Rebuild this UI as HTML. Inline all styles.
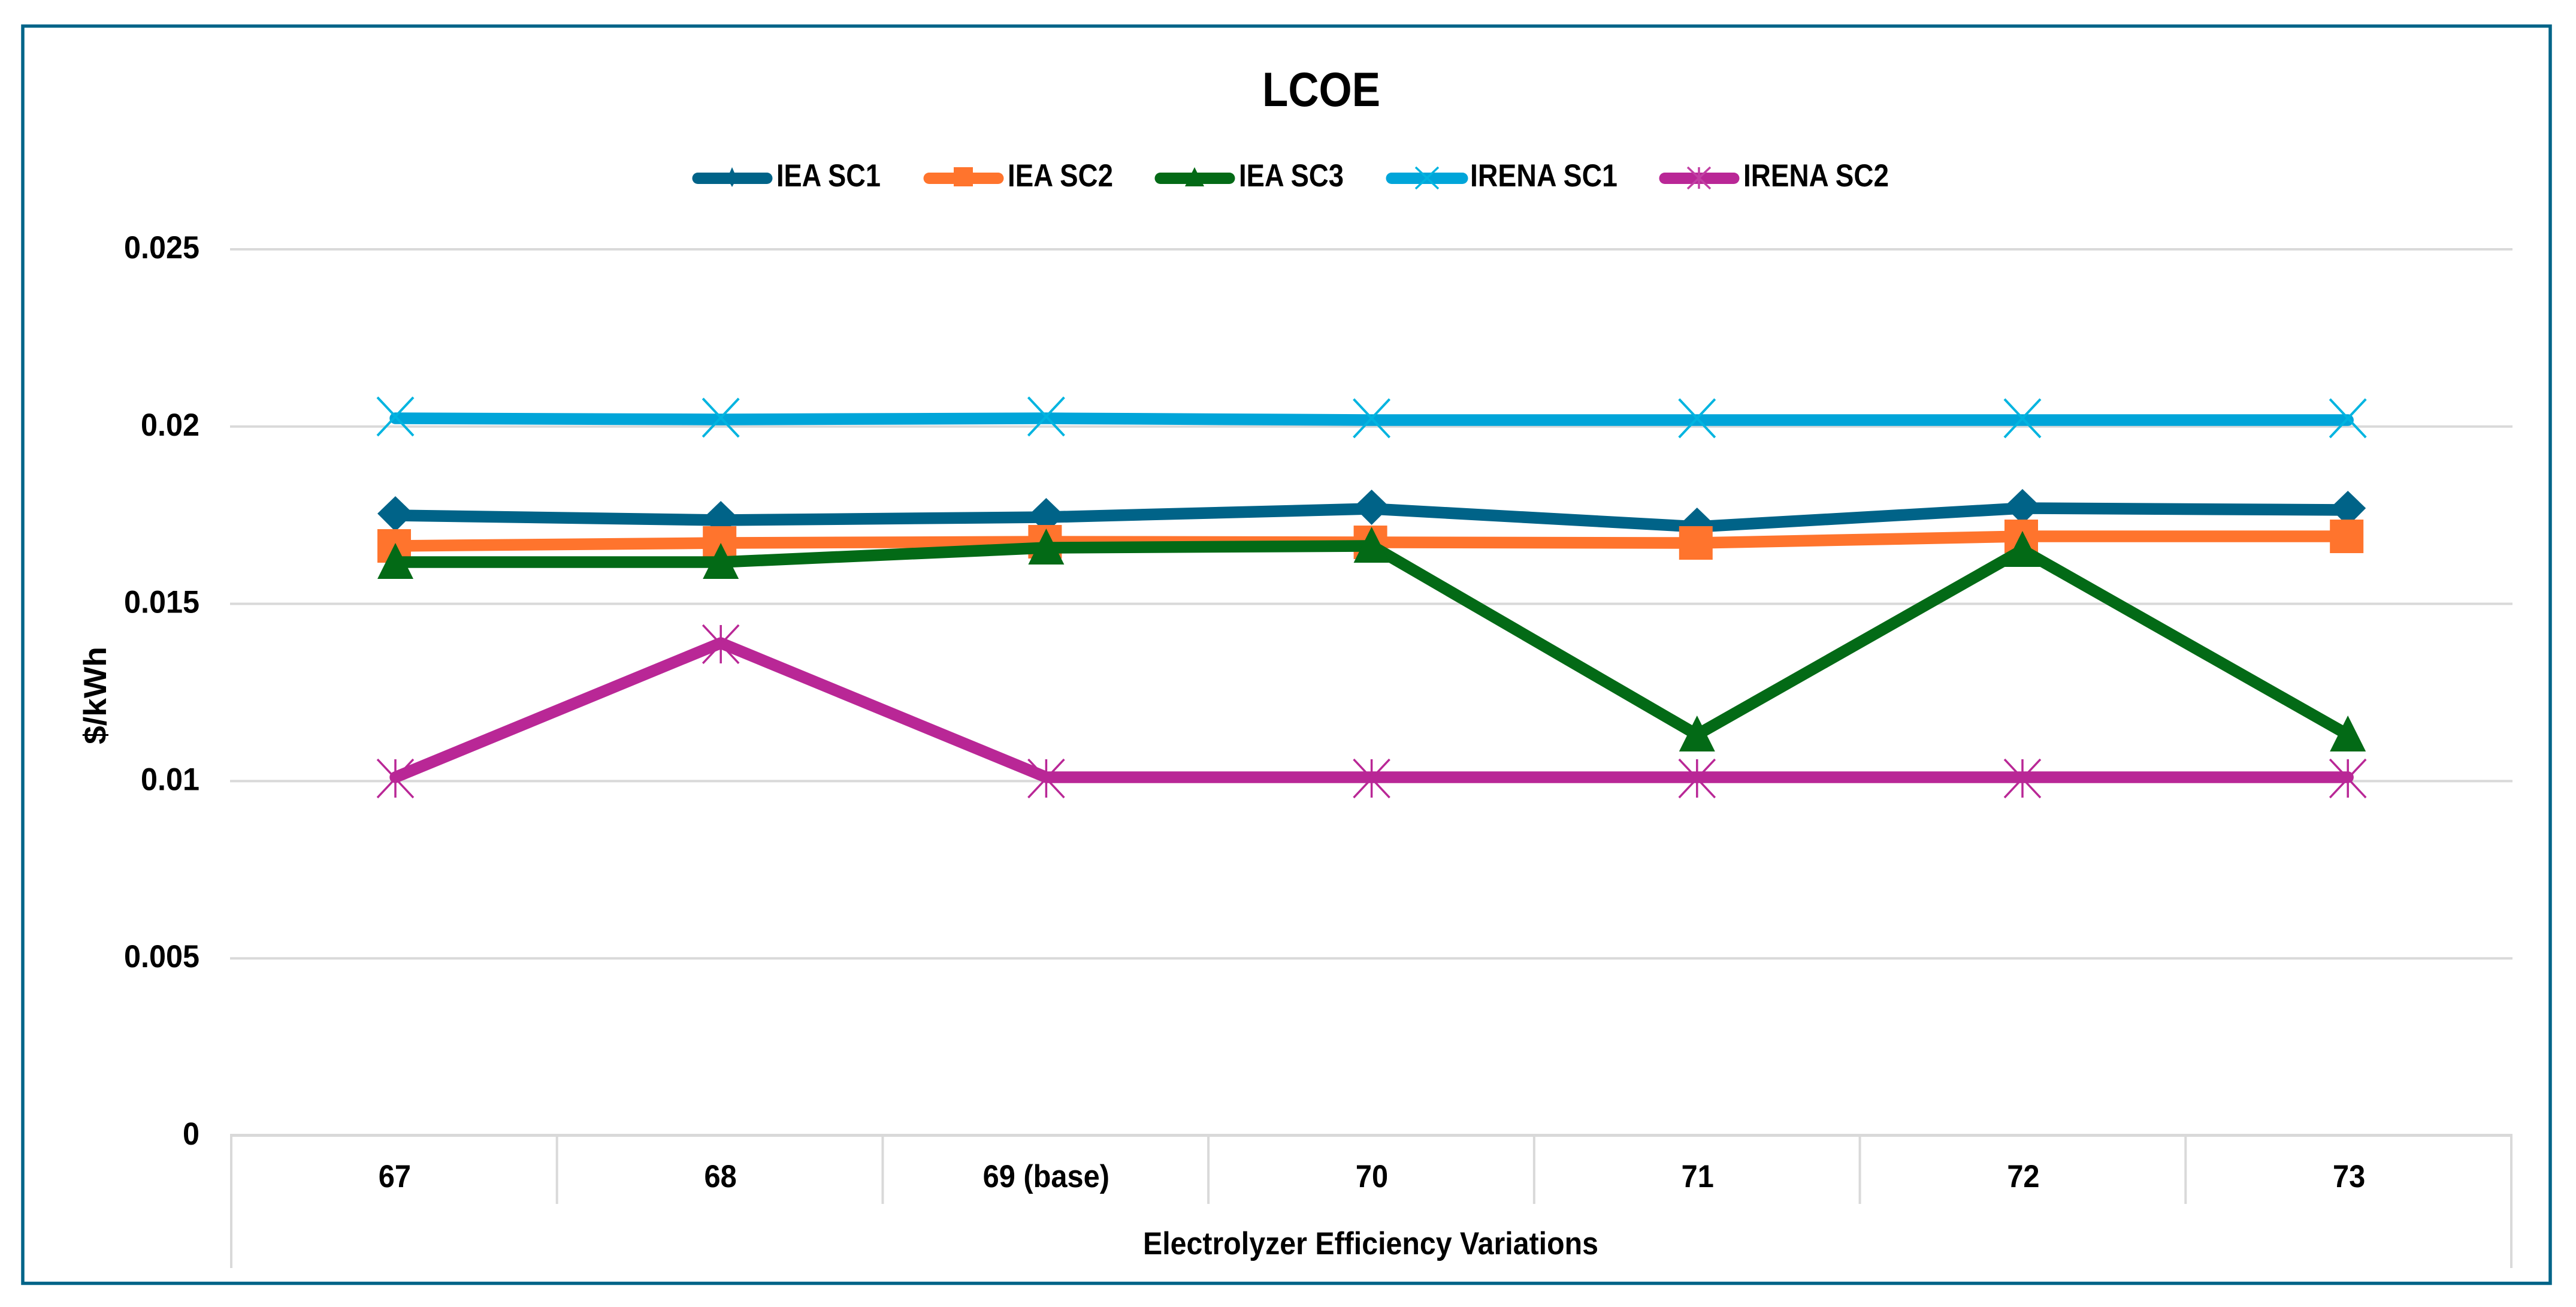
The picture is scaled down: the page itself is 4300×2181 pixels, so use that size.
<!DOCTYPE html>
<html lang="en">
<head>
<meta charset="utf-8">
<title>LCOE</title>
<style>
html,body{margin:0;padding:0;background:#fff;width:4300px;height:2181px;overflow:hidden}
svg{display:block}
text{font-family:"Liberation Sans",sans-serif;font-weight:700;fill:#000}
</style>
</head>
<body>
<svg id="chart" xmlns="http://www.w3.org/2000/svg" width="4300" height="2181" viewBox="0 0 4300 2181">
  <rect x="0" y="0" width="4300" height="2181" fill="#ffffff"/>
  <rect x="38" y="43.500" width="4219" height="2098" fill="#ffffff" stroke="#006488" stroke-width="5.500"/>
  <text x="2107" y="177" font-size="81" textLength="197" lengthAdjust="spacingAndGlyphs">LCOE</text>

  <g id="grid-layer"></g>
  <g id="axis-layer"></g>
  <g id="series-layer"></g>

  <g>
    <g>
      <line x1="1165" y1="297.500" x2="1280" y2="297.500" stroke="#006388" stroke-width="19" stroke-linecap="round"/>
      <path d="M1222 279 L1230 297.500 L1222 312 L1214 297.500 Z" fill="#006388"/>
      <text x="1296" y="311" font-size="53" textLength="174" lengthAdjust="spacingAndGlyphs">IEA SC1</text>
    </g>
    <g>
      <line x1="1551" y1="297.500" x2="1666" y2="297.500" stroke="#FF742D" stroke-width="19" stroke-linecap="round"/>
      <rect x="1592" y="279" width="32" height="32" fill="#FF742D"/>
      <text x="1682" y="311" font-size="53" textLength="176" lengthAdjust="spacingAndGlyphs">IEA SC2</text>
    </g>
    <g>
      <line x1="1937" y1="297.500" x2="2052" y2="297.500" stroke="#036A16" stroke-width="19" stroke-linecap="round"/>
      <path d="M1994 279 L2010 311 L1978 311 Z" fill="#036A16"/>
      <text x="2068" y="311" font-size="53" textLength="175" lengthAdjust="spacingAndGlyphs">IEA SC3</text>
    </g>
    <g>
      <line x1="2323" y1="297.500" x2="2441" y2="297.500" stroke="#00A5D9" stroke-width="19" stroke-linecap="round"/>
      <path d="M2363 279 L2401 315 M2401 279 L2363 315" stroke="#00B4E0" stroke-width="3.500" fill="none"/>
      <text x="2454" y="311" font-size="53" textLength="246" lengthAdjust="spacingAndGlyphs">IRENA SC1</text>
    </g>
    <g>
      <line x1="2779" y1="297.500" x2="2894" y2="297.500" stroke="#B92796" stroke-width="19" stroke-linecap="round"/>
      <path d="M2817 279 L2855 315 M2855 279 L2817 315 M2836 279 L2836 315" stroke="#C23FA4" stroke-width="3.500" fill="none"/>
      <text x="2910" y="311" font-size="53" textLength="243" lengthAdjust="spacingAndGlyphs">IRENA SC2</text>
    </g>
  </g>

  <text transform="translate(177 1242) rotate(-90)" font-size="53" textLength="163" lengthAdjust="spacingAndGlyphs">$/kWh</text>
  <text x="1908" y="2093" font-size="53" textLength="760" lengthAdjust="spacingAndGlyphs">Electrolyzer Efficiency Variations</text>
</svg>

<script>
const categories = ['67', '68', '69 (base)', '70', '71', '72', '73'];
const yTickValues = [0, 0.005, 0.01, 0.015, 0.02, 0.025];
const yTickLabels = ['0', '0.005', '0.01', '0.015', '0.02', '0.025'];
const ieaSc1 = [0.017495, 0.01736, 0.017444, 0.017681, 0.017174, 0.017698, 0.017647];
const ieaSc2 = [0.016633, 0.016717, 0.016751, 0.016734, 0.016717, 0.016903, 0.016903];
const ieaSc3 = [0.016176, 0.016176, 0.016582, 0.016633, 0.011308, 0.016514, 0.011308];
const irenaSc1 = [0.020233, 0.020199, 0.020233, 0.020183, 0.020183, 0.020183, 0.020183];
const irenaSc2 = [0.010108, 0.013895, 0.010108, 0.010108, 0.010108, 0.010108, 0.010108];

const NS = 'http://www.w3.org/2000/svg';
const plotLeft = 386;
const plotRight = 4192;
const bandWidth = (plotRight - plotLeft) / categories.length;

function xPoint(i) { return 660 + 543.2 * i; }
function yScale(v) { return 1895 - 59160 * v; }

function make(tag, attrs, parent) {
  const el = document.createElementNS(NS, tag);
  for (const k in attrs) el.setAttribute(k, attrs[k]);
  parent.appendChild(el);
  return el;
}

const gridLayer = document.getElementById('grid-layer');
const axisLayer = document.getElementById('axis-layer');
const seriesLayer = document.getElementById('series-layer');

yTickValues.forEach(function (v, i) {
  const y = yScale(v);
  if (v !== 0) {
    const g = make('line', { x1: 384, x2: plotRight + 2, y1: y, y2: y, stroke: '#d9d9d9', 'stroke-width': 4 }, gridLayer);
    
    
  }
  const t = make('text', { transform: 'translate(333 ' + (y + 15) + ') scale(0.95 1)', 'font-size': 53, 'text-anchor': 'end' }, gridLayer);
  t.textContent = yTickLabels[i];
  
  
});

const axisLine = make('line', { x1: 384, x2: plotRight + 2, y1: 1894.5, y2: 1894.5, stroke: '#d9d9d9', 'stroke-width': 5 }, axisLayer);



for (let i = 0; i <= categories.length; i++) {
  const x = plotLeft + bandWidth * i;
  const outer = (i === 0 || i === categories.length);
  const tick = make('line', { x1: x, x2: x, y1: 1894, y2: outer ? 2116 : 2009, stroke: '#d9d9d9', 'stroke-width': 4 }, axisLayer);
  
  
}

categories.forEach(function (c, i) {
  const cx = plotLeft + bandWidth * (i + 0.5);
  const t = make('text', { transform: 'translate(' + (cx + 1) + ' 1981) scale(0.92 1)', 'font-size': 53, 'text-anchor': 'middle' }, axisLayer);
  t.textContent = c;
  
  
});

function drawMarker(kind, x, y, color, parent) {
  let m;
  if (kind === 'diamond') {
    m = make('path', { d: 'M' + x + ' ' + (y - 32) + ' L' + (x + 30) + ' ' + (y - 3) + ' L' + x + ' ' + (y + 27) + ' L' + (x - 30) + ' ' + (y - 3) + ' Z', fill: color }, parent);
  } else if (kind === 'square') {
    m = make('rect', { x: x - 30, y: y - 28, width: 56, height: 56, fill: color }, parent);
  } else if (kind === 'triangle') {
    m = make('path', { d: 'M' + x + ' ' + (y - 32) + ' L' + (x + 30) + ' ' + (y + 28) + ' L' + (x - 30) + ' ' + (y + 28) + ' Z', fill: color }, parent);
  } else if (kind === 'x') {
    m = make('path', { d: 'M' + (x - 30) + ' ' + (y - 35) + ' L' + (x + 30) + ' ' + (y + 29) + ' M' + (x + 30) + ' ' + (y - 35) + ' L' + (x - 30) + ' ' + (y + 29), stroke: '#00B4E0', 'stroke-width': 4, fill: 'none' }, parent);
  } else {
    m = make('path', { d: 'M' + (x - 30) + ' ' + (y - 30) + ' L' + (x + 30) + ' ' + (y + 34) + ' M' + (x + 30) + ' ' + (y - 30) + ' L' + (x - 30) + ' ' + (y + 34) + ' M' + x + ' ' + (y - 30) + ' L' + x + ' ' + (y + 34), stroke: color, 'stroke-width': 3.5, fill: 'none' }, parent);
  }
  return m;
}

function drawSeries(name, values, color, kind) {
  const g = make('g', {}, seriesLayer);
  
  
  const pts = values.map(function (v, i) { return xPoint(i) + ',' + yScale(v); }).join(' ');
  const line = make('polyline', { points: pts, fill: 'none', stroke: color, 'stroke-width': 19.5, 'stroke-linecap': 'round', 'stroke-linejoin': 'round' }, g);
  
  
  values.forEach(function (v, i) {
    const m = drawMarker(kind, xPoint(i), yScale(v), color, g);
    
    
  });
}

drawSeries('iea-sc1', ieaSc1, '#006388', 'diamond');
drawSeries('iea-sc2', ieaSc2, '#FF742D', 'square');
drawSeries('iea-sc3', ieaSc3, '#036A16', 'triangle');
drawSeries('irena-sc1', irenaSc1, '#00A5D9', 'x');
drawSeries('irena-sc2', irenaSc2, '#B92796', 'star');
</script>
</body>
</html>
